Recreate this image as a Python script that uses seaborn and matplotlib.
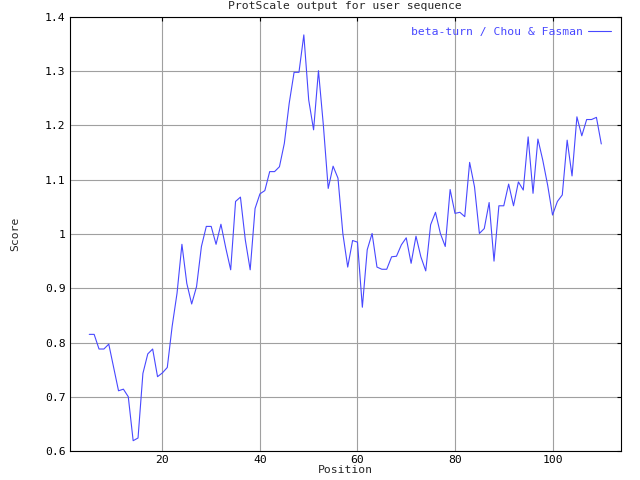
"""Redraw a ProtScale beta-turn profile (Chou & Fasman) with seaborn."""

import matplotlib
matplotlib.use("Agg")
import matplotlib.pyplot as plt
import pandas as pd
import seaborn as sns

# window centre positions 5..110
positions = list(range(5, 111))
scores = [
    0.815, 0.815, 0.788, 0.788, 0.797, 0.754, 0.711, 0.714, 0.700, 0.619,
    0.624, 0.743, 0.779, 0.788, 0.737, 0.744, 0.754, 0.830, 0.891, 0.981,
    0.909, 0.871, 0.903, 0.977, 1.014, 1.014, 0.981, 1.018, 0.974, 0.934,
    1.060, 1.068, 0.989, 0.934, 1.047, 1.074, 1.080, 1.115, 1.115, 1.124,
    1.167, 1.241, 1.298, 1.298, 1.367, 1.247, 1.192, 1.301, 1.201, 1.084,
    1.125, 1.103, 1.001, 0.939, 0.988, 0.985, 0.865, 0.971, 1.001, 0.939,
    0.935, 0.935, 0.958, 0.959, 0.980, 0.993, 0.946, 0.996, 0.958, 0.932,
    1.017, 1.040, 1.001, 0.977, 1.082, 1.038, 1.040, 1.032, 1.132, 1.087,
    1.001, 1.010, 1.058, 0.950, 1.052, 1.052, 1.092, 1.052, 1.096, 1.081,
    1.179, 1.075, 1.175, 1.136, 1.090, 1.035, 1.060, 1.072, 1.173, 1.107,
    1.216, 1.181, 1.211, 1.211, 1.215, 1.166,
]
series_label = "beta-turn / Chou & Fasman"
title = "ProtScale output for user sequence"
x_ticks = [20, 40, 60, 80, 100]
y_ticks = [0.6, 0.7, 0.8, 0.9, 1.0, 1.1, 1.2, 1.3, 1.4]

LINE_COLOR = "#4848ff"
GRID_COLOR = "#a0a0a0"
FS = 8.2

sns.set_style("white")
plt.rcParams["font.family"] = ["DejaVu Sans Mono"]
plt.rcParams["font.size"] = FS

df = pd.DataFrame({"Position": positions, "Score": scores})

fig = plt.figure(figsize=(6.4, 4.8), dpi=100)
ax = fig.add_axes([0.109, 0.0604, 0.861, 0.9042])

sns.lineplot(
    data=df, x="Position", y="Score", ax=ax,
    color=LINE_COLOR, linewidth=0.8, label=series_label,
)

ax.set_xlim(1, 114)
ax.set_ylim(0.6, 1.4)
ax.set_xticks(x_ticks)
ax.set_yticks(y_ticks)
ax.set_yticklabels([f"{v:g}" for v in y_ticks])
ax.grid(True, color=GRID_COLOR, linewidth=0.8)
ax.tick_params(direction="in", length=3, width=0.8, top=True, right=True,
               labelsize=FS, pad=3, colors="black")
for side in ax.spines.values():
    side.set_color("black")
    side.set_linewidth(0.8)

ax.set_title(title, fontsize=FS, pad=5.5)
ax.set_xlabel("Position", fontsize=FS, labelpad=0)
ax.set_ylabel("Score", fontsize=FS, labelpad=18)

ax.legend(loc="upper right", frameon=False, markerfirst=False,
          handlelength=2.0, handletextpad=0.45, borderaxespad=0.5,
          fontsize=FS, labelcolor=LINE_COLOR)

fig.savefig("out.png", dpi=100)
